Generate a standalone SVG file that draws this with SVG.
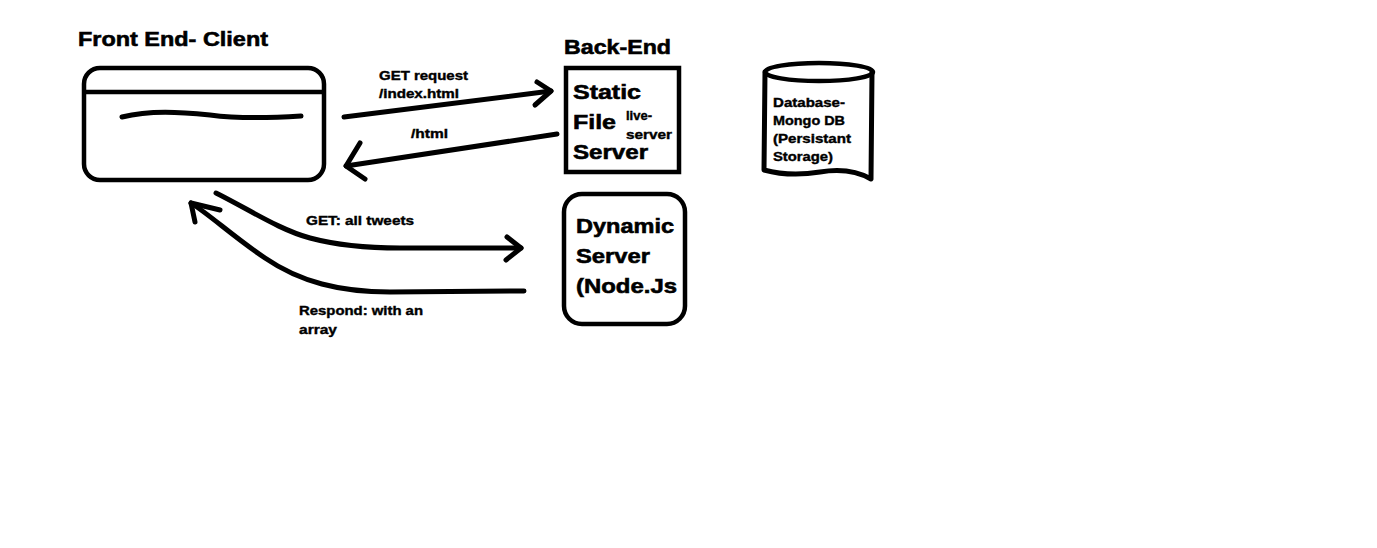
<svg xmlns="http://www.w3.org/2000/svg" width="1377" height="548" viewBox="0 0 1377 548">
<style>
.t{font-family:"Liberation Sans",Arial,sans-serif;font-weight:bold;fill:#000;stroke:#000;stroke-width:0.6}
.big{font-size:21px}
.sm{font-size:13px;stroke-width:0.4}
.ln{fill:none;stroke:#000;stroke-width:5;stroke-linecap:round;stroke-linejoin:round}
.bx{fill:none;stroke:#000;stroke-width:4.5}
</style>
<rect width="1377" height="548" fill="#fff"/>
<g id="client">
<text class="t big" x="78" y="46" textLength="190" lengthAdjust="spacingAndGlyphs">Front End- Client</text>
<rect class="bx" x="84" y="68" width="240" height="112" rx="16"/>
<line x1="84" y1="92" x2="324" y2="92" stroke="#000" stroke-width="4.5"/>
<path class="ln" d="M122,117 C150,110 180,112 210,115 C240,119 270,118 301,116"/>
</g>
<g id="backend-label">
<text class="t big" x="564" y="54" textLength="107" lengthAdjust="spacingAndGlyphs">Back-End</text>
</g>
<g id="static-server">
<rect class="bx" x="566" y="68" width="113" height="104"/>
<text class="t big" x="573" y="99" textLength="68" lengthAdjust="spacingAndGlyphs">Static</text>
<text class="t big" x="573" y="129" textLength="43" lengthAdjust="spacingAndGlyphs">File</text>
<text class="t big" x="573" y="159" textLength="75" lengthAdjust="spacingAndGlyphs">Server</text>
<text class="t sm" x="626" y="120">live-</text>
<text class="t sm" x="626" y="139" textLength="46" lengthAdjust="spacingAndGlyphs">server</text>
</g>
<g id="database">
<ellipse cx="819" cy="72" rx="54" ry="9" fill="none" stroke="#000" stroke-width="4.5"/>
<path class="ln" stroke-width="4.5" d="M765,72 L764,170 Q790,177 820,172 Q850,167 871,179 L872,72"/>
<text class="t sm" x="773" y="107" textLength="72" lengthAdjust="spacingAndGlyphs">Database-</text>
<text class="t sm" x="773" y="125" textLength="72" lengthAdjust="spacingAndGlyphs">Mongo DB</text>
<text class="t sm" x="773" y="143" textLength="78" lengthAdjust="spacingAndGlyphs">(Persistant</text>
<text class="t sm" x="773" y="161" textLength="60" lengthAdjust="spacingAndGlyphs">Storage)</text>
</g>
<g id="dynamic-server">
<rect class="bx" x="564" y="194" width="121" height="130" rx="18"/>
<text class="t big" x="576" y="233" textLength="98" lengthAdjust="spacingAndGlyphs">Dynamic</text>
<text class="t big" x="576" y="263" textLength="74" lengthAdjust="spacingAndGlyphs">Server</text>
<text class="t big" x="576" y="293" textLength="101" lengthAdjust="spacingAndGlyphs">(Node.Js</text>
</g>
<g id="connectors">
<path class="ln" d="M344,117 L551,91"/>
<path class="ln" d="M537,82 L551,91 L535,105"/>
<text class="t sm" x="379" y="80" textLength="89" lengthAdjust="spacingAndGlyphs">GET request</text>
<text class="t sm" x="379" y="98" textLength="80" lengthAdjust="spacingAndGlyphs">/index.html</text>
<path class="ln" d="M557,134 L346,166"/>
<path class="ln" d="M360,143 L346,166 L365,179"/>
<text class="t sm" x="411" y="138" textLength="37" lengthAdjust="spacingAndGlyphs">/html</text>
<path class="ln" d="M216,193 C250,210 280,230 310,238 C340,246 370,248 400,248 L521,248"/>
<path class="ln" d="M507,237 L521,248 L506,260"/>
<text class="t sm" x="306" y="225" textLength="108" lengthAdjust="spacingAndGlyphs">GET: all tweets</text>
<path class="ln" d="M524,291 L390,292 C340,292 300,282 265,258 C235,238 210,215 191,203"/>
<path class="ln" d="M220,210 L191,203 L195,222"/>
<text class="t sm" x="299" y="315" textLength="124" lengthAdjust="spacingAndGlyphs">Respond: with an</text>
<text class="t sm" x="299" y="334" textLength="38" lengthAdjust="spacingAndGlyphs">array</text>
</g>
</svg>
